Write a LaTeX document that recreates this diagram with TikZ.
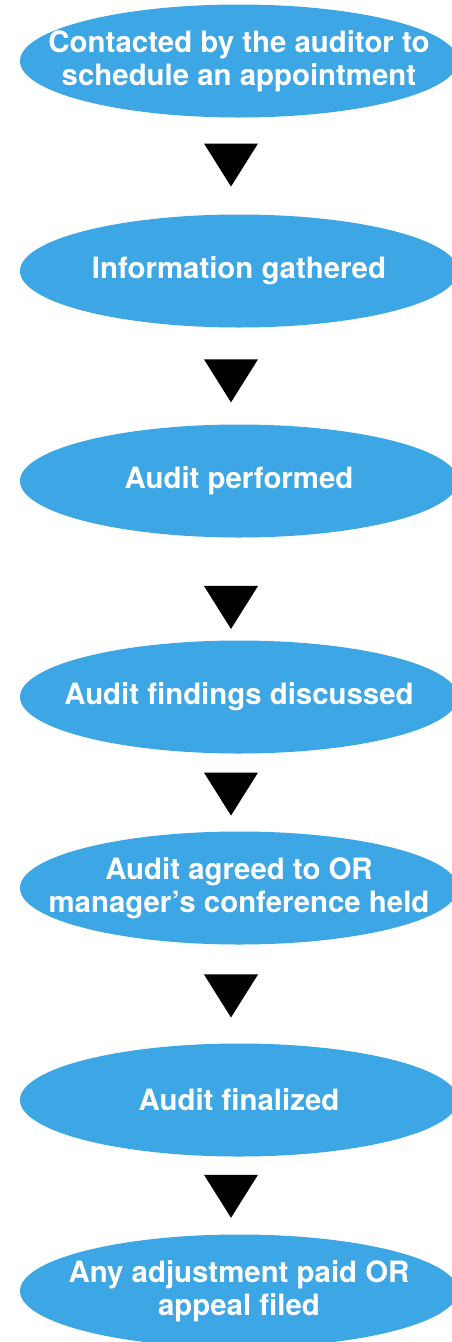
\documentclass[tikz,border=0pt]{standalone}
\usepackage{fontspec}
\setmainfont{TeX Gyre Heros}
\usetikzlibrary{shapes.geometric,calc}
\definecolor{stageblue}{RGB}{61,166,228}

\begin{document}
\begin{tikzpicture}[x=1pt, y=-1pt,
  stage/.style={ellipse, fill=stageblue, inner sep=0pt,
    minimum width=438pt, minimum height=113pt},
  stagetext/.style={text=white, align=center, inner sep=0pt,
    font=\bfseries\fontsize{29.4}{33}\selectfont}]

  \useasboundingbox (0,0) rectangle (451,1342);

  % ---- stages ----
  \node[stage] (contact)  at (239,61)   {};
  \node[stage] (info)     at (239,271)  {};
  \node[stage] (audit)    at (239,481)  {};
  \node[stage] (findings) at (239,697)  {};
  \node[stage] (agreed)   at (239,888)  {};
  \node[stage] (final)    at (239,1100) {};
  \node[stage] (paid)     at (239,1291) {};

  \node[stagetext] (contact-t)  at (contact)  {Contacted by the auditor to\\schedule an appointment};
  \node[stagetext] (info-t)     at (info)     {Information gathered};
  \node[stagetext] (audit-t)    at (audit)    {Audit performed};
  \node[stagetext] (findings-t) at (findings) {Audit findings discussed};
  \node[stagetext] (agreed-t)   at (agreed)   {Audit agreed to OR\\manager’s conference held};
  \node[stagetext] (final-t)    at (final)    {Audit finalized};
  \node[stagetext] (paid-t)     at (paid)     {Any adjustment paid OR\\appeal filed};

  % ---- arrowheads between the stages ----
  \foreach \a/\b/\p in {contact/info/0.49, info/audit/0.55, audit/findings/0.68,
                        findings/agreed/0.52, agreed/final/0.52, final/paid/0.51} {
    \coordinate (mid-\a) at ($(\a.south)!\p!(\b.north)+(-8,0)$);
    \fill (mid-\a) ++(-27,-21.5) -- ++(54,0) -- ++(-27,43) -- cycle;
  }

\end{tikzpicture}
\end{document}
